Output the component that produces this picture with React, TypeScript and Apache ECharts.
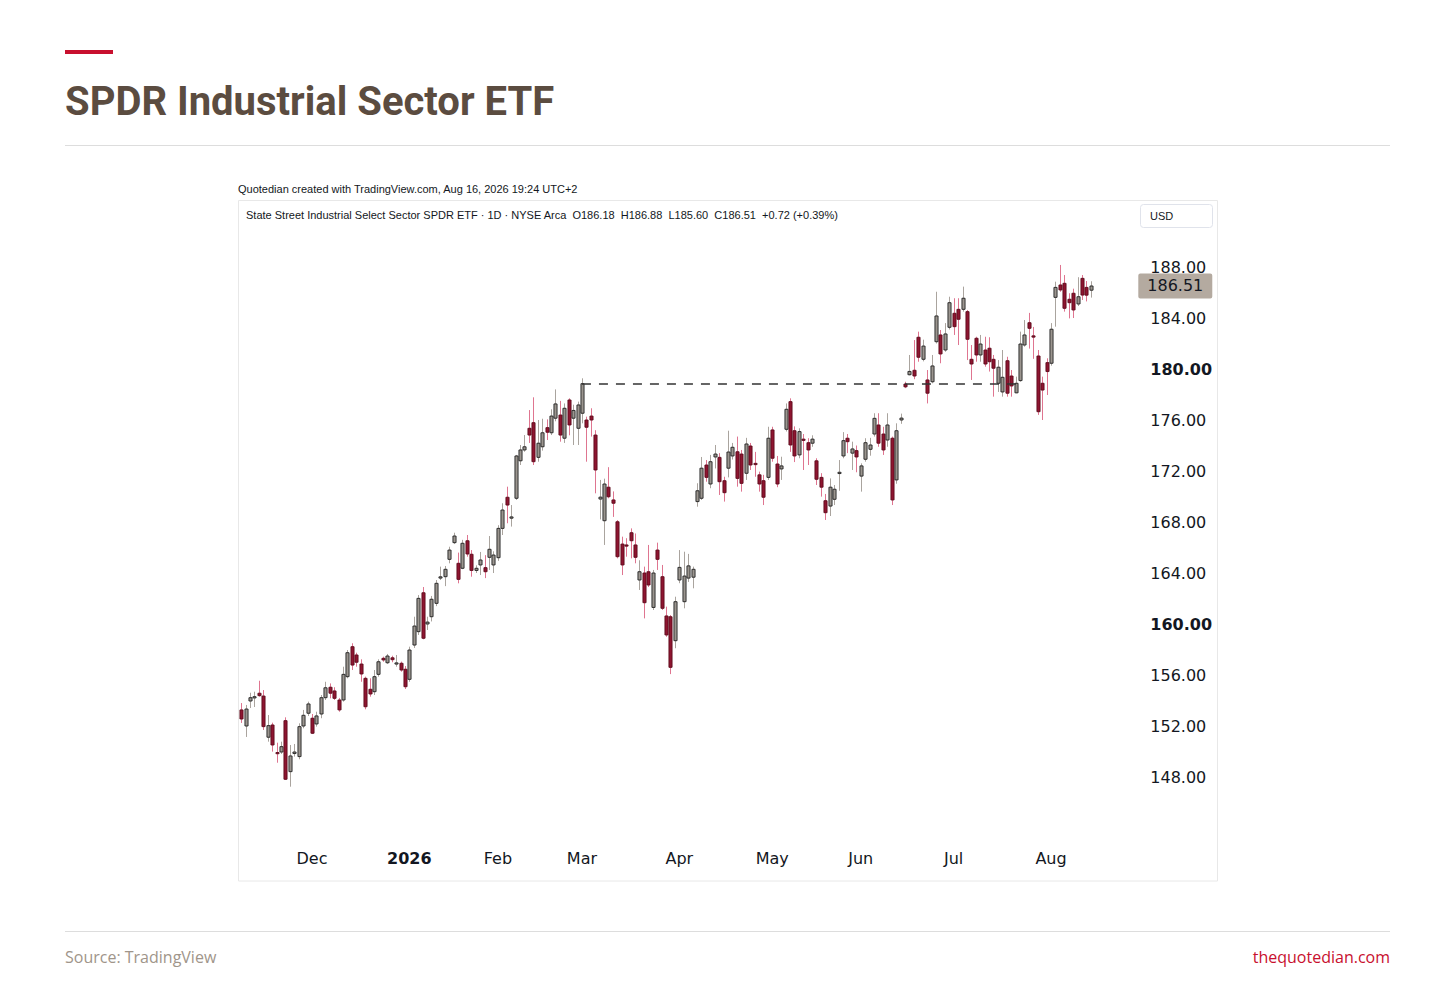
import React, { useEffect, useRef } from 'react';
import * as echarts from 'echarts';

// ---------- data ----------
const DATE_START = '2025-11-06';
const DATE_END = '2026-08-14';
const HOLIDAYS = ['2025-11-27', '2025-12-25', '2026-01-01', '2026-01-19', '2026-02-16', '2026-04-03', '2026-05-25', '2026-06-19', '2026-07-03'];
const RIGHT_PAD_BARS = 10;
const MONTH_NAMES = ['Jan', 'Feb', 'Mar', 'Apr', 'May', 'Jun', 'Jul', 'Aug', 'Sep', 'Oct', 'Nov', 'Dec'];

const OPEN = [
  153.26, 152.00, 153.96, 154.20, 154.57, 154.35, 151.12, 152.08, 149.92, 149.96,
  152.42, 148.42, 149.84, 149.60, 152.00, 153.00, 152.61, 152.16, 152.94, 154.22,
  155.04, 154.75, 154.04, 154.04, 155.87, 158.22, 157.57, 156.86, 155.74, 154.88,
  154.69, 156.05, 157.31, 156.96, 157.35, 156.90, 156.92, 156.45, 155.66, 158.35,
  159.40, 162.45, 160.00, 160.57, 161.62, 163.60, 163.71, 165.07, 166.38, 164.76,
  164.37, 166.53, 165.47, 164.20, 164.63, 164.42, 165.23, 164.63, 165.20, 167.50,
  169.94, 168.30, 169.86, 172.80, 173.65, 175.35, 175.79, 173.07, 173.90, 175.40,
  175.00, 176.14, 176.39, 174.57, 177.57, 176.14, 175.35, 176.53, 176.00, 176.31,
  174.82, 169.80, 168.10, 170.73, 169.73, 168.02, 166.27, 166.20, 167.16, 166.20,
  163.45, 164.00, 164.10, 161.30, 165.80, 163.71, 160.63, 160.57, 158.69, 163.45,
  161.75, 163.60, 163.67, 169.60, 169.86, 172.47, 170.98, 173.10, 173.07, 171.24,
  172.22, 173.18, 173.51, 173.33, 171.82, 173.96, 172.60, 171.70, 171.24, 171.50,
  175.22, 172.55, 172.16, 175.27, 177.44, 175.16, 173.26, 174.50, 174.22, 174.18,
  172.80, 171.50, 169.67, 169.25, 169.78, 171.80, 173.18, 174.57, 173.40, 173.60,
  171.60, 172.92, 173.70, 174.90, 175.61, 174.90, 174.43, 174.57, 171.30, 176.00,
  178.82, 179.55, 179.90, 182.49, 180.76, 179.14, 179.00, 182.14, 182.67, 181.49,
  183.27, 184.37, 184.68, 184.68, 184.50, 180.76, 182.41, 181.10, 181.49, 181.63,
  180.76, 178.88, 178.20, 180.65, 179.45, 178.13, 179.09, 181.88, 183.63, 182.60,
  181.02, 178.88, 180.50, 180.45, 185.62, 186.59, 186.72, 185.47, 185.94, 185.10,
  187.11, 186.40, 186.18,
];
const HIGH = [
  153.80, 153.65, 154.61, 154.69, 155.55, 154.82, 152.86, 152.26, 150.69, 150.77,
  152.68, 150.51, 150.59, 152.21, 153.26, 153.91, 152.94, 153.12, 154.43, 155.47,
  155.34, 155.04, 154.20, 156.65, 157.96, 158.49, 157.75, 157.23, 155.87, 155.74,
  156.39, 157.23, 157.44, 157.65, 157.51, 157.57, 157.05, 156.70, 158.22, 160.57,
  162.27, 162.90, 160.57, 162.20, 163.45, 164.50, 164.55, 166.06, 167.16, 165.60,
  166.60, 166.98, 165.80, 164.60, 165.65, 165.40, 166.90, 165.70, 167.75, 169.47,
  170.77, 169.33, 173.26, 174.04, 174.82, 176.78, 177.78, 176.00, 176.10, 176.05,
  176.84, 178.40, 177.50, 177.30, 177.70, 177.20, 177.44, 179.27, 176.26, 176.92,
  175.20, 171.30, 171.40, 172.30, 170.40, 168.15, 166.85, 166.73, 167.50, 167.10,
  165.00, 164.50, 166.20, 164.24, 166.38, 164.63, 161.36, 160.70, 162.14, 165.80,
  165.67, 165.50, 164.50, 171.04, 173.10, 172.86, 173.26, 174.04, 173.40, 171.55,
  175.16, 174.20, 174.70, 173.65, 174.60, 174.20, 173.50, 171.95, 171.70, 175.47,
  175.47, 173.18, 173.12, 177.30, 177.70, 175.50, 175.35, 174.90, 174.57, 174.80,
  173.00, 171.83, 170.20, 171.42, 170.90, 172.86, 175.05, 174.90, 174.30, 174.00,
  172.60, 174.57, 174.60, 176.53, 176.53, 175.47, 176.53, 174.70, 175.74, 176.50,
  179.00, 181.10, 182.27, 182.93, 182.30, 179.92, 181.10, 186.06, 183.06, 183.60,
  185.67, 185.55, 185.55, 186.46, 184.63, 181.88, 182.53, 182.67, 182.53, 182.49,
  181.10, 180.70, 181.49, 180.96, 179.92, 179.40, 182.93, 183.84, 184.40, 183.30,
  181.49, 179.40, 180.84, 183.60, 186.85, 188.16, 187.37, 185.94, 186.30, 187.20,
  187.37, 186.90, 186.88,
];
const LOW = [
  152.24, 151.14, 153.41, 153.49, 154.30, 151.69, 150.77, 149.99, 149.12, 149.81,
  147.77, 147.24, 149.60, 149.39, 151.82, 152.79, 151.37, 151.95, 152.61, 154.04,
  154.17, 154.04, 153.12, 153.91, 155.74, 156.39, 156.65, 155.47, 153.31, 154.30,
  154.43, 155.87, 157.04, 156.86, 157.00, 156.65, 156.26, 154.90, 155.47, 158.12,
  159.14, 158.80, 159.53, 160.20, 161.40, 163.45, 162.97, 164.76, 166.27, 163.19,
  164.30, 165.28, 163.71, 164.00, 163.84, 163.60, 164.24, 164.00, 164.95, 166.98,
  167.90, 167.64, 169.73, 172.47, 173.51, 174.20, 172.47, 172.73, 173.60, 174.43,
  174.82, 175.90, 174.30, 174.20, 174.80, 174.04, 174.04, 175.74, 172.73, 174.70,
  170.25, 168.20, 166.20, 169.86, 168.40, 165.15, 163.84, 165.28, 165.15, 164.76,
  162.67, 160.44, 162.90, 161.10, 164.24, 161.10, 159.00, 156.07, 158.10, 163.20,
  161.23, 163.30, 162.80, 169.20, 169.73, 171.16, 170.65, 172.20, 170.12, 169.60,
  171.50, 172.90, 170.77, 170.38, 171.30, 172.08, 171.55, 170.38, 169.33, 171.30,
  172.73, 170.73, 171.30, 175.10, 173.50, 172.70, 173.00, 172.08, 172.47, 173.90,
  170.90, 169.99, 168.16, 168.47, 169.33, 170.45, 173.00, 173.40, 172.08, 171.90,
  170.38, 172.73, 173.20, 174.70, 173.90, 173.26, 173.90, 169.33, 171.00, 175.70,
  178.50, 179.50, 179.20, 180.57, 180.60, 177.30, 178.88, 182.00, 180.45, 181.35,
  183.10, 182.67, 181.88, 184.50, 180.70, 179.14, 180.57, 180.57, 180.18, 179.80,
  177.83, 178.20, 177.83, 177.83, 177.83, 178.10, 179.00, 181.75, 181.60, 180.80,
  176.40, 176.00, 177.96, 180.26, 183.32, 186.06, 184.50, 183.97, 184.00, 184.94,
  185.41, 185.30, 185.60,
];
const CLOSE = [
  152.55, 153.33, 154.22, 154.30, 154.38, 151.95, 152.03, 150.51, 149.84, 150.38,
  147.82, 149.65, 149.96, 151.95, 152.84, 153.73, 151.43, 152.79, 154.22, 155.00,
  154.57, 154.17, 153.26, 156.05, 157.75, 156.78, 157.00, 156.08, 153.51, 154.51,
  155.87, 157.04, 157.18, 157.49, 157.20, 156.95, 156.39, 155.08, 157.96, 159.84,
  162.01, 158.88, 160.15, 161.94, 163.19, 163.70, 164.29, 165.80, 166.90, 163.50,
  166.33, 165.49, 164.20, 164.37, 165.02, 164.10, 165.86, 165.41, 167.50, 168.94,
  169.33, 168.40, 173.18, 173.65, 173.90, 174.82, 172.73, 174.18, 175.00, 175.04,
  176.31, 177.26, 174.82, 176.92, 175.61, 176.75, 177.18, 178.85, 175.43, 176.00,
  172.08, 169.95, 170.98, 169.98, 169.47, 165.28, 164.63, 166.15, 166.53, 165.23,
  164.10, 161.67, 163.06, 164.00, 165.07, 161.23, 159.14, 156.60, 161.75, 164.44,
  163.76, 164.56, 164.29, 170.45, 172.22, 171.50, 172.73, 173.33, 171.16, 170.30,
  173.49, 173.86, 171.42, 171.03, 174.12, 172.47, 172.50, 170.98, 169.94, 174.57,
  173.00, 170.98, 172.40, 176.84, 174.04, 173.18, 175.09, 174.40, 173.65, 174.50,
  171.35, 170.73, 168.73, 170.73, 170.57, 171.90, 174.38, 174.30, 173.73, 173.10,
  172.40, 174.22, 174.04, 176.13, 174.18, 173.65, 175.61, 169.73, 175.16, 176.15,
  178.60, 179.81, 179.45, 180.92, 181.80, 178.10, 180.24, 184.16, 181.18, 182.75,
  185.20, 183.32, 183.90, 185.55, 182.33, 180.39, 181.10, 181.96, 180.39, 180.57,
  180.06, 180.14, 179.35, 178.10, 178.67, 178.88, 181.96, 182.67, 183.19, 182.50,
  176.65, 178.35, 179.80, 183.12, 186.40, 186.20, 184.76, 185.20, 184.63, 185.67,
  185.80, 185.79, 186.51,
];

const Y_MIN = 144;
const Y_MAX = 192;
const Y_STEP = 4;
const BOLD_TICKS = [160, 180];

const LEVEL = 178.85;
const LEVEL_FROM = '2026-03-02';
const LEVEL_TO = '2026-07-23';
const LAST_PRICE = 186.51;

const TITLE = 'SPDR Industrial Sector ETF';
const CREDIT = 'Quotedian created with TradingView.com, Aug 16, 2026 19:24 UTC+2';
const LEGEND_LINE = 'State Street Industrial Select Sector SPDR ETF · 1D · NYSE Arca  O186.18  H186.88  L185.60  C186.51  +0.72 (+0.39%)';
const SOURCE = 'Source: TradingView';
const SITE = 'thequotedian.com';

// ---------- styles ----------
const UP_FILL = '#9b958f';
const UP_BORDER = '#222222';
const UP_WICK = '#aaa49e';
const DOWN_FILL = '#8e1530';
const DOWN_BORDER = '#5e0c1d';
const DOWN_WICK = '#df7590';
const AXIS_FONT = '"DejaVu Sans", "Noto Sans", sans-serif';
const TEXT_COLOR = '#131722';

function tradingDays(): string[] {
  const out: string[] = [];
  const d = new Date(DATE_START + 'T00:00:00Z');
  const end = new Date(DATE_END + 'T00:00:00Z');
  while (d.getTime() <= end.getTime()) {
    const wd = d.getUTCDay();
    const s = d.toISOString().slice(0, 10);
    if (wd !== 0 && wd !== 6 && HOLIDAYS.indexOf(s) < 0) out.push(s);
    d.setUTCDate(d.getUTCDate() + 1);
  }
  return out;
}

export default function App() {
  const ref = useRef<HTMLDivElement>(null);

  useEffect(() => {
    if (!ref.current) return;
    const dates = tradingDays();
    const categories = dates.concat(new Array(RIGHT_PAD_BARS).fill(''));
    const monthStart: boolean[] = categories.map((c, i) =>
      i > 0 && c !== '' && categories[i - 1] !== '' && c.slice(5, 7) !== categories[i - 1].slice(5, 7)
    );
    const data = dates.map((_, i) => [i, OPEN[i], CLOSE[i], LOW[i], HIGH[i]]);

    const chart = echarts.init(ref.current, null, { renderer: 'svg', width: 1456, height: 990 });

    const option: any = {
      animation: false,
      backgroundColor: '#ffffff',
      grid: { left: 239, top: 216, width: 898.3, height: 612, containLabel: false },
      xAxis: {
        type: 'category',
        data: categories,
        boundaryGap: true,
        axisLine: { show: false },
        axisTick: { show: false },
        splitLine: { show: false },
        axisLabel: {
          interval: (index: number) => monthStart[index],
          margin: 22,
          fontFamily: AXIS_FONT,
          fontSize: 16,
          color: TEXT_COLOR,
          formatter: (value: string) => {
            if (!value) return '';
            const m = parseInt(value.slice(5, 7), 10) - 1;
            if (m === 0) return '{b|' + value.slice(0, 4) + '}';
            return MONTH_NAMES[m];
          },
          rich: { b: { fontWeight: 'bold', fontFamily: AXIS_FONT, fontSize: 16, color: TEXT_COLOR } },
        },
      },
      yAxis: {
        type: 'value',
        position: 'right',
        min: Y_MIN,
        max: Y_MAX,
        interval: Y_STEP,
        axisLine: { show: false },
        axisTick: { show: false },
        splitLine: { show: false },
        axisLabel: {
          margin: 13,
          fontFamily: AXIS_FONT,
          fontSize: 16,
          color: TEXT_COLOR,
          showMinLabel: false,
          showMaxLabel: false,
          formatter: (v: number) => {
            if (v <= Y_MIN || v >= Y_MAX) return '';
            const t = v.toFixed(2);
            return BOLD_TICKS.indexOf(v) >= 0 ? '{b|' + t + '}' : t;
          },
          rich: { b: { fontWeight: 'bold', fontFamily: AXIS_FONT, fontSize: 16, color: TEXT_COLOR } },
        },
      },
      series: [
        {
          type: 'custom',
          data,
          encode: { x: 0, y: [1, 2, 3, 4] },
          renderItem: (params: any, api: any) => {
            const i = api.value(0);
            const o = api.value(1);
            const c = api.value(2);
            const l = api.value(3);
            const h = api.value(4);
            const pO = api.coord([i, o]);
            const pC = api.coord([i, c]);
            const pL = api.coord([i, l]);
            const pH = api.coord([i, h]);
            const w = api.size([1, 0])[0] * 0.7;
            const up = c >= o;
            const top = Math.min(pO[1], pC[1]);
            const bh = Math.max(Math.abs(pO[1] - pC[1]), 1.2);
            const x = Math.round(pO[0]) + 0.5;
            return {
              type: 'group',
              children: [
                {
                  type: 'line',
                  shape: { x1: x, y1: pH[1], x2: x, y2: pL[1] },
                  style: { stroke: up ? UP_WICK : DOWN_WICK, lineWidth: 1 },
                },
                {
                  type: 'rect',
                  shape: { x: x - w / 2, y: top, width: w, height: bh },
                  style: { fill: up ? UP_FILL : DOWN_FILL, stroke: up ? UP_BORDER : DOWN_BORDER, lineWidth: 0.9 },
                },
              ],
            };
          },
          markLine: {
            silent: true,
            symbol: ['none', 'none'],
            animation: false,
            data: [
              [
                { coord: [LEVEL_FROM, LEVEL], lineStyle: { color: '#333333', width: 1.5, type: [9, 8] }, label: { show: false } },
                { coord: [LEVEL_TO, LEVEL] },
              ],
              {
                yAxis: LAST_PRICE,
                lineStyle: { color: 'rgba(0,0,0,0)', width: 0 },
                label: {
                  show: true,
                  position: 'end',
                  distance: 1,
                  formatter: LAST_PRICE.toFixed(2),
                  backgroundColor: '#b4aaa0',
                  color: TEXT_COLOR,
                  fontFamily: AXIS_FONT,
                  fontSize: 16,
                  lineHeight: 19,
                  padding: [3, 9, 3, 9],
                  borderRadius: 2,
                },
              },
            ],
          },
        },
      ],
      graphic: [
        { type: 'rect', shape: { x: 65, y: 50, width: 48, height: 4 }, style: { fill: '#c8102e' } },
        {
          type: 'text', x: 65, y: 101,
          style: { text: TITLE, font: 'bold 40px Roboto, "Noto Sans", sans-serif', fill: '#5b4c40', align: 'left', verticalAlign: 'middle' },
        },
        { type: 'line', shape: { x1: 65, y1: 145.5, x2: 1390, y2: 145.5 }, style: { stroke: '#dddddd', lineWidth: 1 } },
        {
          type: 'text', x: 238, y: 189,
          style: { text: CREDIT, font: '11px "Liberation Sans", sans-serif', fill: TEXT_COLOR, align: 'left', verticalAlign: 'middle' },
        },
        { type: 'rect', shape: { x: 238.5, y: 200.5, width: 979, height: 680.5 }, style: { fill: 'none', stroke: '#e8e8e8', lineWidth: 1 } },
        {
          type: 'text', x: 246, y: 215,
          style: { text: LEGEND_LINE, font: '11px "Liberation Sans", sans-serif', fill: TEXT_COLOR, align: 'left', verticalAlign: 'middle' },
        },
        { type: 'rect', shape: { x: 1140.5, y: 204.5, width: 72, height: 23, r: 3 }, style: { fill: '#ffffff', stroke: '#e0e3eb', lineWidth: 1 } },
        {
          type: 'text', x: 1150, y: 216,
          style: { text: 'USD', font: '11px "Liberation Sans", sans-serif', fill: TEXT_COLOR, align: 'left', verticalAlign: 'middle' },
        },
        { type: 'line', shape: { x1: 65, y1: 931.5, x2: 1390, y2: 931.5 }, style: { stroke: '#dddddd', lineWidth: 1 } },
        {
          type: 'text', x: 65, y: 957,
          style: { text: SOURCE, font: '16px "Open Sans", sans-serif', fill: '#a0958a', align: 'left', verticalAlign: 'middle' },
        },
        {
          type: 'text', x: 1390, y: 957,
          style: { text: SITE, font: '16px "Open Sans", sans-serif', fill: '#c8102e', align: 'right', verticalAlign: 'middle' },
        },
      ],
    };

    chart.setOption(option);
    return () => chart.dispose();
  }, []);

  return (
    <div
      ref={ref}
      style={{ position: 'absolute', left: 0, top: 0, width: 1456, height: 990, background: '#ffffff' }}
    />
  );
}
